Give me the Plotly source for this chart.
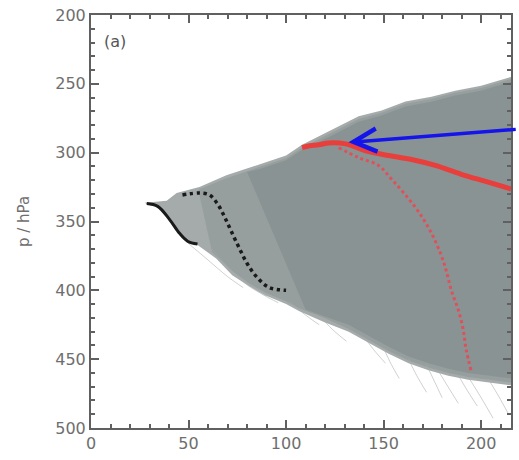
import plotly.graph_objects as go

# Envelope of the trajectory ensemble (x, pressure in hPa)
outer_top_x = [27.6, 38.8, 43.9, 55.6, 69.4, 86.2, 100.0, 108.2, 123.5, 137.2, 149.0, 161.2, 174.5, 186.7, 200.0, 215.3]
outer_top_p = [336.4, 335.0, 329.3, 325.0, 316.4, 308.6, 302.1, 294.3, 283.6, 273.6, 269.3, 262.9, 259.3, 255.0, 251.4, 245.0]
outer_bot_x = [28.6, 34.2, 40.3, 45.4, 49.5, 54.6, 64.3, 72.4, 81.1, 89.8, 100.0, 106.6, 119.4, 132.1, 142.3, 152.6, 162.8, 173.0, 183.2, 193.4, 203.6, 215.3]
outer_bot_p = [337.5, 339.5, 348.6, 358.6, 364.3, 367.0, 377.0, 389.0, 397.0, 404.0, 410.0, 415.0, 423.0, 430.0, 438.0, 446.0, 453.0, 458.0, 462.0, 465.0, 467.0, 469.0]

# Medium-density band
mid_top_x = [55.0, 69.4, 86.2, 100.0, 108.2, 123.5, 137.2, 149.0, 161.2, 174.5, 186.7, 200.0, 215.3]
mid_top_p = [327.0, 318.5, 310.5, 304.0, 296.5, 285.5, 275.5, 271.0, 264.5, 261.0, 256.5, 253.0, 246.5]
mid_bot_x = [62.0, 72.4, 81.1, 89.8, 100.0, 106.6, 119.4, 132.1, 142.3, 152.6, 162.8, 173.0, 183.2, 193.4, 203.6, 215.3]
mid_bot_p = [372.0, 386.0, 395.0, 402.0, 408.0, 413.0, 420.0, 428.0, 436.0, 444.0, 451.0, 456.0, 460.0, 463.0, 465.0, 467.0]

# Densest core of the ensemble
core_top_x = [80.0, 86.2, 100.0, 108.2, 123.5, 137.2, 149.0, 161.2, 174.5, 186.7, 200.0, 215.3]
core_top_p = [314.0, 312.0, 305.5, 298.0, 287.5, 277.5, 273.0, 266.5, 263.0, 258.5, 255.0, 248.5]
core_bot_x = [110.0, 120.0, 132.1, 142.3, 152.6, 162.8, 173.0, 183.2, 193.4, 203.6, 215.3]
core_bot_p = [414.0, 419.0, 425.0, 433.0, 441.0, 448.0, 453.0, 457.0, 460.0, 462.0, 464.0]

# Stray single trajectories along the lower edge
streaks = [
    ([50.0, 60.0, 70.0, 78.0], [366.0, 378.0, 390.0, 398.0]),
    ([62.0, 72.0, 82.0, 90.0], [370.0, 386.0, 398.0, 404.0]),
    ([81.1, 88.0, 96.0], [396.4, 403.0, 409.0]),
    ([101.5, 110.0, 117.0], [408.0, 418.0, 425.0]),
    ([118.0, 125.0, 131.0], [420.0, 430.0, 437.0]),
    ([140.0, 146.0, 151.0], [434.0, 445.0, 453.0]),
    ([150.0, 154.0, 158.0], [442.0, 454.0, 464.0]),
    ([162.8, 167.0, 172.0], [450.0, 462.0, 474.0]),
    ([172.0, 176.0, 180.0], [454.0, 466.0, 478.0]),
    ([178.1, 183.0, 188.3], [458.6, 470.0, 482.1]),
    ([188.0, 193.0, 198.0], [461.0, 473.0, 484.0]),
    ([193.4, 200.0, 206.1], [462.9, 478.0, 492.9]),
    ([203.6, 209.0, 213.8], [464.3, 477.0, 489.3]),
]

# Highlighted trajectories
black_x = [28.6, 34.2, 40.3, 45.4, 49.5, 54.6]
black_p = [337.0, 339.0, 348.6, 358.6, 364.3, 366.4]
black_dot_x = [46.9, 55.6, 60.7, 64.8, 68.4, 71.9, 76.0, 80.1, 85.2, 91.3, 100.0]
black_dot_p = [330.7, 329.3, 330.7, 337.1, 346.4, 357.1, 369.3, 380.7, 390.7, 397.9, 400.0]
red_x = [108.2, 112.0, 116.8, 121.9, 130.6, 140.8, 152.6, 164.3, 176.5, 189.8, 203.6, 215.3]
red_p = [296.4, 295.0, 294.3, 292.9, 293.6, 298.6, 302.1, 305.0, 309.3, 315.7, 321.4, 326.4]
red_dot_x = [127.0, 137.2, 147.4, 154.1, 161.2, 167.9, 174.0, 179.1, 182.1, 184.7, 188.3, 190.8, 192.3, 194.9]
red_dot_p = [296.4, 303.6, 309.3, 319.3, 330.7, 342.9, 357.1, 372.9, 385.7, 400.0, 414.3, 428.6, 442.9, 458.6]

# Arrow pointing at the red trajectory's crest
arrow_head = (132.0, 292.5)
arrow_tail = (218.5, 283.0)

x_range = [0, 215.3]
p_range = [500, 200]


def band(tx, tp, bx, bp, color):
    return go.Scatter(x=tx + bx[::-1], y=tp + bp[::-1], fill="toself",
                      fillcolor=color, line=dict(width=0), mode="lines",
                      hoverinfo="skip", showlegend=False)


fig = go.Figure()
fig.add_trace(band(outer_top_x, outer_top_p, outer_bot_x, outer_bot_p, "rgb(165,171,171)"))
fig.add_trace(band(mid_top_x, mid_top_p, mid_bot_x, mid_bot_p, "rgb(150,158,158)"))
fig.add_trace(band(core_top_x, core_top_p, core_bot_x, core_bot_p, "rgb(138,147,147)"))

for sx, sp in streaks:
    fig.add_trace(go.Scatter(x=sx, y=sp, mode="lines",
                             line=dict(color="rgba(165,172,172,0.55)", width=1, shape="spline"),
                             hoverinfo="skip", showlegend=False))

fig.add_trace(go.Scatter(x=black_dot_x, y=black_dot_p, mode="lines",
                         line=dict(color="#1a1a1a", width=3.5, dash="dot", shape="spline"),
                         showlegend=False))
fig.add_trace(go.Scatter(x=black_x, y=black_p, mode="lines",
                         line=dict(color="#1a1a1a", width=3, shape="spline"),
                         showlegend=False))
fig.add_trace(go.Scatter(x=red_dot_x, y=red_dot_p, mode="lines",
                         line=dict(color="rgb(222,80,90)", width=3, dash="dot", shape="spline"),
                         showlegend=False))
fig.add_trace(go.Scatter(x=red_x, y=red_p, mode="lines",
                         line=dict(color="rgb(232,62,60)", width=5, shape="spline"),
                         showlegend=False))

fig.add_annotation(x=arrow_head[0], y=arrow_head[1], ax=arrow_tail[0], ay=arrow_tail[1],
                   xref="x", yref="y", axref="x", ayref="y", text="",
                   showarrow=True, arrowhead=5, arrowsize=1.3, arrowwidth=3.5,
                   arrowcolor="rgb(20,20,235)", standoff=0)
fig.add_annotation(x=0.026, y=0.935, xref="paper", yref="paper", text="(a)",
                   showarrow=False, xanchor="left", yanchor="middle",
                   font=dict(family="DejaVu Sans", size=16, color="#555555"))

axis_common = dict(
    showline=True, linecolor="#606060", linewidth=2, mirror="ticks",
    ticks="inside", ticklen=8, tickwidth=1.5, tickcolor="#606060",
    showgrid=False, zeroline=False,
    tickfont=dict(family="DejaVu Sans", size=16, color="#6e6e6e"),
    minor=dict(ticks="inside", ticklen=4, tickwidth=1.5, tickcolor="#606060", dtick=10),
)
fig.update_xaxes(range=x_range, dtick=50, tick0=0, **axis_common)
fig.update_yaxes(range=p_range, dtick=50, tick0=0, **axis_common,
                 title=dict(text="p / hPa", standoff=22,
                            font=dict(family="DejaVu Sans", size=15, color="#6e6e6e")))

fig.update_layout(width=519, height=460,
                  margin=dict(l=91, r=6, t=10, b=32),
                  paper_bgcolor="white", plot_bgcolor="white")

fig.write_html("out.html")
